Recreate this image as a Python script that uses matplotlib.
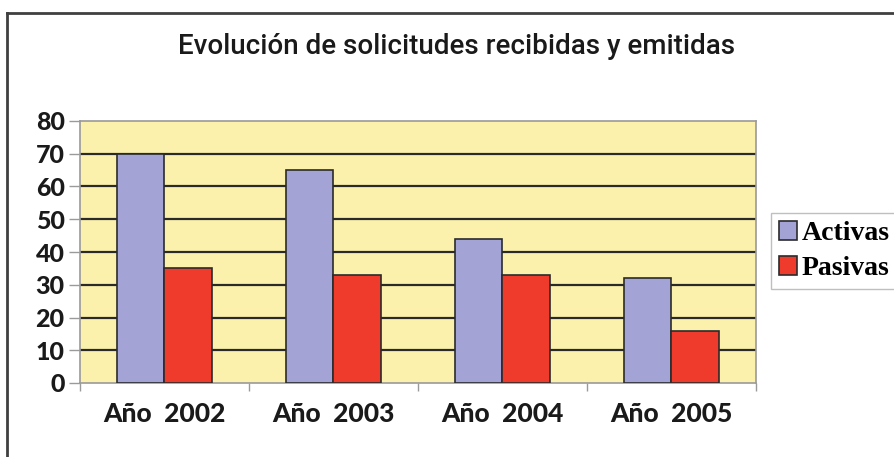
import matplotlib
matplotlib.use("Agg")
import matplotlib.pyplot as plt
from matplotlib.lines import Line2D
import numpy as np

# Data
years = ["2002", "2003", "2004", "2005"]
activas = [70, 65, 44, 32]
pasivas = [35, 33, 33, 16]
series_names = ["Activas", "Pasivas"]
y_ticks = [0, 10, 20, 30, 40, 50, 60, 70, 80]
title = "Evolución de solicitudes recibidas y emitidas"

col_activas = "#A3A3D6"
col_pasivas = "#EE3B2B"
bg_plot = "#FBF1AC"

fig = plt.figure(figsize=(8.95, 4.57), dpi=100)
fig.patch.set_facecolor("white")

ax = fig.add_axes([80 / 895, 1 - 383 / 457, (756 - 80) / 895, (383 - 121) / 457])
ax.set_facecolor(bg_plot)

x = np.arange(len(years))
w = 0.284
ax.bar(x - w / 2, activas, width=w, color=col_activas, edgecolor="#2b2b2b",
       linewidth=1.2, zorder=3, label=series_names[0])
ax.bar(x + w / 2, pasivas, width=w, color=col_pasivas, edgecolor="#2b2b2b",
       linewidth=1.2, zorder=3, label=series_names[1])

ax.set_xlim(-0.5, len(years) - 0.5)
ax.set_ylim(0, 80)

# Horizontal grid lines
for v in y_ticks[1:-1]:
    ax.axhline(v, color="#2a2a2a", linewidth=1.6, zorder=2)

for side in ["top", "right", "left", "bottom"]:
    ax.spines[side].set_color("#9a9a9a")
    ax.spines[side].set_linewidth(1.2)

ax.set_yticks(y_ticks)
ax.set_yticklabels([str(v) for v in y_ticks], fontfamily="Lato",
                   fontweight="black", fontsize=18, color="#1a1a1a")
ax.tick_params(axis="y", length=8, width=1.0, color="#9a9a9a", pad=3)

# Category boundary ticks with centered labels
ax.set_xticks(np.arange(-0.5, len(years) + 0.5, 1.0))
ax.set_xticklabels([])
ax.tick_params(axis="x", length=6, width=1.0, color="#9a9a9a")
for i, yr in enumerate(years):
    ax.text(i, -9.5, "Año  " + yr, ha="center", va="center", fontfamily="Lato",
            fontweight="black", fontsize=19, color="#1a1a1a")

fig.text(457 / 895, 1 - 47 / 457, title, ha="center", va="center",
         fontfamily="Roboto", fontweight="medium", fontsize=20, color="#1a1a1a")

leg = fig.legend(loc="upper left", bbox_to_anchor=(771 / 895, 1 - 213 / 457),
                 frameon=True, fancybox=False, edgecolor="#b0b0b0",
                 prop={"family": "Liberation Serif", "weight": "bold", "size": 20},
                 handlelength=0.65, handleheight=0.65, handletextpad=0.15,
                 labelspacing=0.35, borderpad=0.3, borderaxespad=0)
leg.get_frame().set_linewidth(1.0)

# Outer frame
fig.add_artist(Line2D([7 / 895, 1], [1 - 13 / 457, 1 - 13 / 457],
                      transform=fig.transFigure, color="#404040", linewidth=2))
fig.add_artist(Line2D([7 / 895, 7 / 895], [0, 1 - 13 / 457],
                      transform=fig.transFigure, color="#404040", linewidth=2))

fig.savefig("out.png", dpi=100)
